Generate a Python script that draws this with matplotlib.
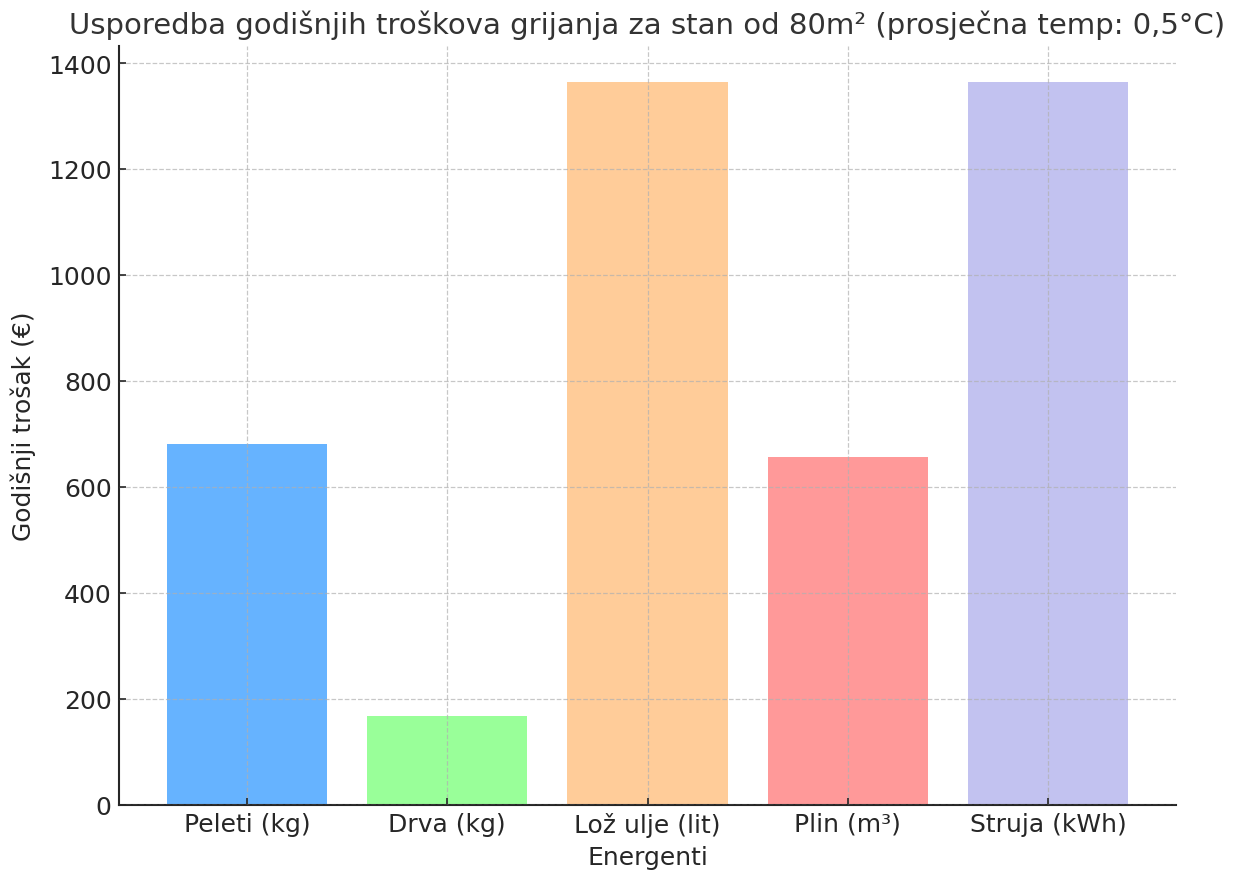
import matplotlib
matplotlib.use("Agg")
import matplotlib.pyplot as plt

categories = ["Peleti (kg)", "Drva (kg)", "Lož ulje (lit)", "Plin (m³)", "Struja (kWh)"]
costs = [681, 168, 1364, 657, 1364]
colors = ["#66b3ff", "#99ff99", "#ffcc99", "#ff9999", "#c2c2f0"]

fig = plt.figure(figsize=(8.28, 5.8133), dpi=150)
ax = fig.add_axes([119/1242, 1-805.5/872, (1176-119)/1242, (805.5-47)/872])

ax.bar(categories, costs, color=colors, width=0.8, zorder=1)
ax.grid(True, linestyle="--", color="#b0b0b0", alpha=0.7, linewidth=0.6, zorder=3)
ax.set_axisbelow(False)

ax.set_title("Usporedba godišnjih troškova grijanja za stan od 80m² (prosječna temp: 0,5°C)",
             fontsize=14, color="#333333", pad=6)
ax.set_xlabel("Energenti", fontsize=12, color="#262626", labelpad=4)
ax.set_ylabel("Godišnji trošak (€)", fontsize=12, color="#262626", labelpad=6)
ax.tick_params(direction="in", labelsize=12, colors="#262626", length=3.5, width=0.8)
ax.set_yticks([0, 200, 400, 600, 800, 1000, 1200, 1400])
for s in ["top", "right"]:
    ax.spines[s].set_visible(False)
for s in ["left", "bottom"]:
    ax.spines[s].set_color("#262626")
    ax.spines[s].set_linewidth(1.0)

fig.savefig("out.png", dpi=150)
